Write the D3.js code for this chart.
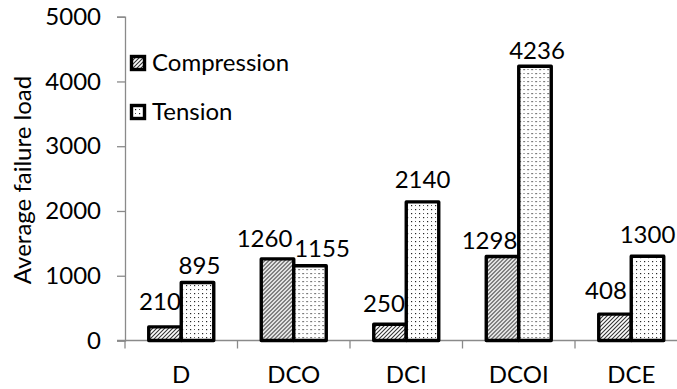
<!DOCTYPE html>
<html>
<head>
<meta charset="utf-8">
<script src="https://cdn.jsdelivr.net/npm/d3@7"></script>
<style>
  html, body { margin: 0; padding: 0; background: #fff; }
  svg { display: block; }
  text { font-family: Lato, "Open Sans", sans-serif; fill: #000; }
</style>
</head>
<body>
<svg id="chart" width="677" height="389"></svg>
<script>
// Specimen groups and their average failure loads
const categories = ["D", "DCO", "DCI", "DCOI", "DCE"];
const seriesNames = ["Compression", "Tension"];
const compression = [210, 1260, 250, 1298, 408];
const tension = [895, 1155, 2140, 4236, 1300];
const yTicks = [0, 1000, 2000, 3000, 4000, 5000];

// Small offsets that keep neighbouring value labels apart
const labelNudge = {
  Compression: [[-5, 17], [-13, 12], [-6, 12.5], [-13, 7.5], [-9, 15]],
  Tension:     [[2, 8.5], [12, 8.5], [0, 14], [2, 7], [0, 13.5]]
};

const svg = d3.select("#chart");
const axisColor = "#8a8a8a";
const fontSize = 24;

const x0 = d3.scaleBand().domain(categories).range([125, 687.5]).paddingInner(0).paddingOuter(0);
const bandW = x0.bandwidth();
const barW = 32.5;
const x1 = d3.scaleBand().domain(seriesNames)
  .range([(bandW - 2 * barW) / 2, (bandW + 2 * barW) / 2]);
const y = d3.scaleLinear().domain([0, 5000]).range([340.5, 16.7]);

// Fill patterns: diagonal hatch and staggered dots
const defs = svg.append("defs");
const hatch = defs.append("pattern").attr("id", "hatch")
  .attr("patternUnits", "userSpaceOnUse").attr("width", 4).attr("height", 4);
hatch.append("rect").attr("width", 4).attr("height", 4).attr("fill", "#fff");
hatch.append("path").attr("d", "M-1,1 l2,-2 M0,4 l4,-4 M3,5 l2,-2")
  .attr("stroke", "#333").attr("stroke-width", 1.1);

const dots = defs.append("pattern").attr("id", "dots")
  .attr("patternUnits", "userSpaceOnUse").attr("width", 8).attr("height", 8);
dots.append("rect").attr("width", 8).attr("height", 8).attr("fill", "#fff");
dots.append("rect").attr("x", 1).attr("y", 1).attr("width", 1.2).attr("height", 1.2).attr("fill", "#222");
dots.append("rect").attr("x", 5).attr("y", 5).attr("width", 1.2).attr("height", 1.2).attr("fill", "#222");
dots.append("rect").attr("x", 5).attr("y", 1).attr("width", 1).attr("height", 1).attr("fill", "#555");
dots.append("rect").attr("x", 1).attr("y", 5).attr("width", 1).attr("height", 1).attr("fill", "#555");

const fills = { Compression: "url(#hatch)", Tension: "url(#dots)" };
const values = { Compression: compression, Tension: tension };

// Y axis
const yAxis = d3.axisLeft(y).tickValues(yTicks).tickSize(8).tickPadding(16).tickFormat(d3.format("d"));
const gy = svg.append("g").attr("transform", "translate(125,0)").call(yAxis);
gy.select(".domain").attr("stroke", axisColor).attr("stroke-width", 1.3);
gy.selectAll(".tick line").attr("stroke", axisColor).attr("stroke-width", 1.3);
gy.selectAll(".tick text").attr("font-size", fontSize).attr("font-family", "Lato, sans-serif").attr("fill", "#000");

// X axis with ticks between groups
const gx = svg.append("g").attr("transform", `translate(0,${y(0)})`);
gx.append("line").attr("x1", 117).attr("x2", 687.5).attr("stroke", axisColor).attr("stroke-width", 1.3);
gx.selectAll("line.sep").data(categories).join("line").attr("class", "sep")
  .attr("x1", d => x0(d)).attr("x2", d => x0(d)).attr("y1", 0).attr("y2", 8)
  .attr("stroke", axisColor).attr("stroke-width", 1.3);
gx.selectAll("text").data(categories).join("text")
  .attr("x", d => x0(d) + bandW / 2).attr("y", 42.5)
  .attr("text-anchor", "middle").attr("font-size", fontSize).text(d => d);

// Bars
const groups = svg.append("g").selectAll("g").data(categories).join("g")
  .attr("transform", d => `translate(${x0(d)},0)`);

seriesNames.forEach(s => {
  groups.append("rect")
    .attr("x", (d, i) => x1(s))
    .attr("y", (d, i) => y(values[s][i]))
    .attr("width", barW)
    .attr("height", (d, i) => y(0) - y(values[s][i]))
    .attr("fill", fills[s]).attr("stroke", "#000").attr("stroke-width", 3.4)
    .attr("stroke-linejoin", "round");
});

// Value labels
seriesNames.forEach(s => {
  groups.append("text")
    .attr("x", (d, i) => x1(s) + barW / 2 + labelNudge[s][i][0])
    .attr("y", (d, i) => y(values[s][i]) - labelNudge[s][i][1])
    .attr("text-anchor", "middle").attr("font-size", fontSize)
    .text((d, i) => values[s][i]);
});

// Legend
const legend = svg.append("g").selectAll("g").data(seriesNames).join("g")
  .attr("transform", (d, i) => `translate(130,${55 + i * 49})`);
legend.append("rect").attr("x", 1.5).attr("y", 1.5).attr("width", 13).attr("height", 13)
  .attr("fill", d => fills[d]).attr("stroke", "#000").attr("stroke-width", 3.4);
legend.append("text").attr("x", 22).attr("y", 15.5).attr("font-size", fontSize).text(d => d);

// Y axis title
svg.append("text")
  .attr("transform", "translate(31,180) rotate(-90)")
  .attr("text-anchor", "middle").attr("font-size", fontSize)
  .text("Average failure load");
</script>
</body>
</html>
